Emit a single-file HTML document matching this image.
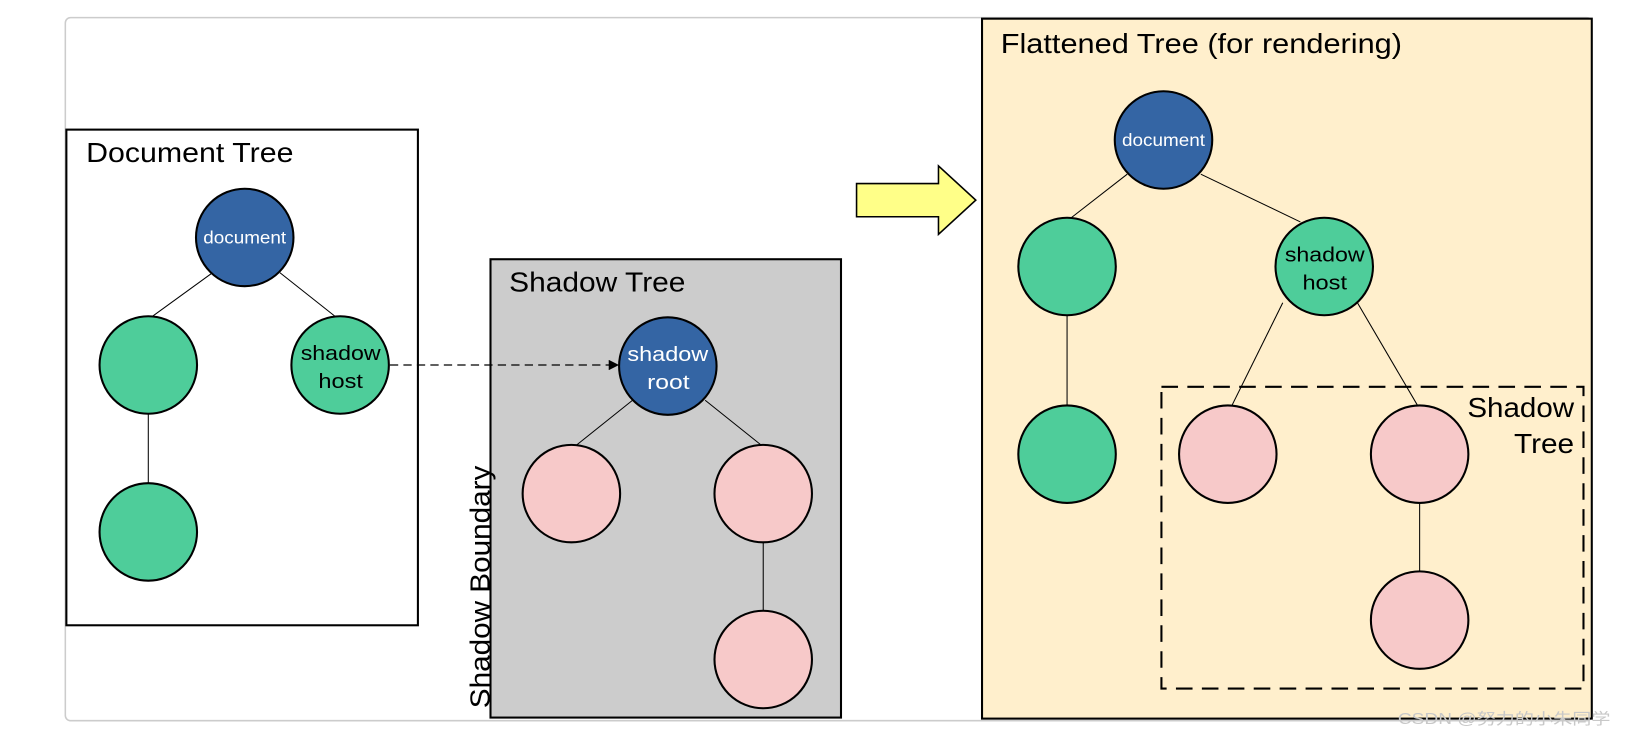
<!DOCTYPE html>
<html><head><meta charset="utf-8"><style>html,body{margin:0;padding:0;background:#fff}svg{display:block}text{font-family:"Liberation Sans","Noto Sans CJK SC",sans-serif}</style></head><body>
<svg width="1626" height="738" viewBox="0 0 1568 711.7" preserveAspectRatio="none" xmlns="http://www.w3.org/2000/svg">
<defs><marker id="ah" markerWidth="10" markerHeight="10" refX="9" refY="5" orient="auto" markerUnits="userSpaceOnUse"><path d="M0,0 L10,5 L0,10 z" fill="#000"/></marker></defs>
<rect x="63" y="17" width="1472" height="678" rx="5" fill="#fff" stroke="#ccc" stroke-width="1.5"/>
<rect x="64" y="125" width="339" height="478" fill="#fff" stroke="#000" stroke-width="2"/>
<text x="83" y="156" font-size="27" textLength="200" lengthAdjust="spacingAndGlyphs">Document Tree</text>
<g stroke="#000" stroke-width="1">
<line x1="205" y1="263" x2="147" y2="305"/><line x1="270" y1="263" x2="323" y2="305"/><line x1="143" y1="399" x2="143" y2="466"/>
</g>
<g stroke="#000" stroke-width="2">
<circle cx="236" cy="229" r="47" fill="#3465a4"/>
<circle cx="143" cy="352" r="47" fill="#4ecd9a"/>
<circle cx="328" cy="352" r="47" fill="#4ecd9a"/>
<circle cx="143" cy="513" r="47" fill="#4ecd9a"/>
</g>
<text x="196" y="235" font-size="17" fill="#fff" textLength="80" lengthAdjust="spacingAndGlyphs">document</text>
<text x="290" y="347" font-size="20" textLength="77" lengthAdjust="spacingAndGlyphs">shadow</text>
<text x="307" y="374" font-size="20" textLength="43" lengthAdjust="spacingAndGlyphs">host</text>
<rect x="473" y="250" width="338" height="442" fill="#cccccc" stroke="#000" stroke-width="2"/>
<text x="491" y="281" font-size="27" textLength="170" lengthAdjust="spacingAndGlyphs">Shadow Tree</text>
<line x1="376" y1="352" x2="596" y2="352" stroke="#000" stroke-width="1.2" stroke-dasharray="8 5" marker-end="url(#ah)"/>
<g stroke="#000" stroke-width="1">
<line x1="610" y1="386" x2="555" y2="430"/><line x1="680" y1="386" x2="735" y2="430"/><line x1="736" y1="523" x2="736" y2="590"/>
</g>
<g stroke="#000" stroke-width="2">
<circle cx="644" cy="353" r="47" fill="#3465a4"/>
<circle cx="551" cy="476" r="47" fill="#f7c9c9"/>
<circle cx="736" cy="476" r="47" fill="#f7c9c9"/>
<circle cx="736" cy="636" r="47" fill="#f7c9c9"/>
</g>
<text x="605" y="348" font-size="20" fill="#fff" textLength="78" lengthAdjust="spacingAndGlyphs">shadow</text>
<text x="624" y="375" font-size="20" fill="#fff" textLength="41" lengthAdjust="spacingAndGlyphs">root</text>
<text transform="translate(472,683) rotate(-90)" font-size="27" textLength="234" lengthAdjust="spacingAndGlyphs">Shadow Boundary</text>
<path d="M826,177 L905,177 L905,160 L941,193 L905,226 L905,209 L826,209 Z" fill="#ffff88" stroke="#000" stroke-width="1.5"/>
<rect x="947" y="18" width="588" height="675" fill="#ffefcc" stroke="#000" stroke-width="2"/>
<text x="965" y="51" font-size="27" textLength="387" lengthAdjust="spacingAndGlyphs">Flattened Tree (for rendering)</text>
<rect x="1120" y="373" width="407" height="291" fill="none" stroke="#000" stroke-width="2" stroke-dasharray="16 9"/>
<text x="1415" y="402" font-size="27" textLength="103" lengthAdjust="spacingAndGlyphs">Shadow</text>
<text x="1460" y="437" font-size="27" textLength="58" lengthAdjust="spacingAndGlyphs">Tree</text>
<g stroke="#000" stroke-width="1">
<line x1="1087" y1="168" x2="1033" y2="210"/><line x1="1158" y1="168" x2="1254" y2="214"/><line x1="1029" y1="304" x2="1029" y2="391"/>
<line x1="1237" y1="292" x2="1188" y2="391"/><line x1="1309" y1="292" x2="1367" y2="391"/><line x1="1369" y1="485" x2="1369" y2="551"/>
</g>
<g stroke="#000" stroke-width="2">
<circle cx="1122" cy="135" r="47" fill="#3465a4"/>
<circle cx="1029" cy="257" r="47" fill="#4ecd9a"/>
<circle cx="1277" cy="257" r="47" fill="#4ecd9a"/>
<circle cx="1029" cy="438" r="47" fill="#4ecd9a"/>
<circle cx="1184" cy="438" r="47" fill="#f7c9c9"/>
<circle cx="1369" cy="438" r="47" fill="#f7c9c9"/>
<circle cx="1369" cy="598" r="47" fill="#f7c9c9"/>
</g>
<text x="1082" y="141" font-size="17" fill="#fff" textLength="80" lengthAdjust="spacingAndGlyphs">document</text>
<text x="1239" y="252" font-size="20" textLength="77" lengthAdjust="spacingAndGlyphs">shadow</text>
<text x="1256" y="279" font-size="20" textLength="43" lengthAdjust="spacingAndGlyphs">host</text>
<text x="1348" y="698" font-size="15" fill="#c8c8c8" textLength="205" lengthAdjust="spacingAndGlyphs">CSDN @努力的小朱同学</text>
</svg>
</body></html>
